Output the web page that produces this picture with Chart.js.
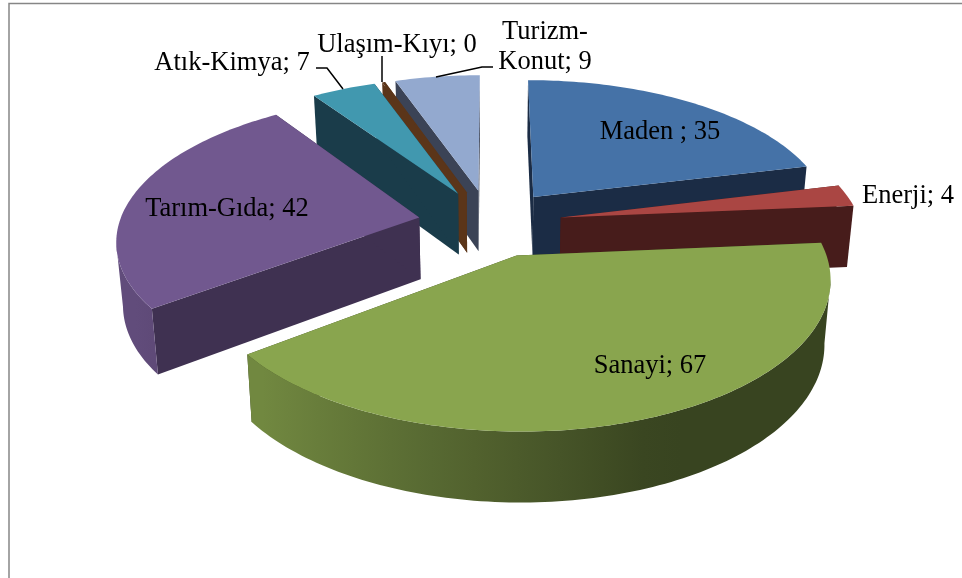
<!DOCTYPE html>
<html>
<head>
<meta charset="utf-8">
<title>Pie</title>
<script src="https://cdn.jsdelivr.net/npm/chart.js@4"></script>
<style>
    html, body { margin: 0; padding: 0; background: #fff; overflow: hidden; }
    canvas { display: block; }
</style>
</head>
<body>
<canvas id="sectorChart" width="962" height="578"></canvas>
<script>
// Data, the printed labels are rounded (the Ulaşım sliver prints as 0)
const categories = ['Maden ', 'Enerji', 'Sanayi', 'Tarım-Gıda', 'Atık-Kimya', 'Ulaşım-Kıyı', 'Turizm-Konut'];
const sectorValues = [34.6, 4, 67.2, 42, 6.6, 0.3, 8.7];

const topColors = ['#4572a7', '#aa4643', '#89a54e', '#71588f', '#4198af', '#5b3519', '#93a9cf'];
const faceColors = ['#1b2c45', '#471c1b', '#3a4420', '#3f3151', '#1a3c4a', '#5b3519', '#3b4356'];

// far slices first so the near ones paint over them
const paintOrder = [6, 5, 4, 0, 1, 3, 2];

// Camera for the tilted pie
const cam = { cx: 490, cy: 223, R: 300, persp: 0.000476, tilt: 0.4685, depth: 62, taper: 0.018 };

// Data label boxes
const labelSpots = [
    { text: ['Maden ; 35'], x: 660, y: 132 },
    { text: ['Enerji; 4'], x: 908, y: 196 },
    { text: ['Sanayi; 67'], x: 650, y: 366 },
    { text: ['Tarım-Gıda; 42'], x: 227, y: 209 },
    { text: ['Atık-Kimya; 7'], x: 232, y: 63 },
    { text: ['Ulaşım-Kıyı; 0'], x: 397, y: 45 },
    { text: ['Turizm-', 'Konut; 9'], x: 545, y: 32 }
];
const leaders = [
    [[316, 68], [327, 68], [343, 89]],
    [[382, 56], [382, 82]],
    [[493, 67], [482, 67], [436, 77]]
];

function project(X, Y, t) {
    const s = 1 / (1 - cam.persp * Y);
    return {
        x: cam.cx + X * s * (1 - cam.taper * t),
        y: cam.cy + cam.tilt * Y * s + cam.depth * t * Math.pow(s, 0.7)
    };
}

function rgbOf(hex) {
    return [1, 3, 5].map(function (i) { return parseInt(hex.substr(i, 2), 16); });
}

// Curved wall gets darker towards the right, like the 3D lighting in the original
function wallColor(hex, angle) {
    const lean = Math.cos(angle);
    let f = 0.86 - (lean + 0.85) * (0.46 / 1.25);
    f = Math.max(0.41, Math.min(0.86, f));
    const c = rgbOf(hex);
    return 'rgb(' + c.map(function (v) { return Math.round(v * f); }).join(',') + ')';
}

function fillPoly(ctx, pts, color) {
    ctx.beginPath();
    pts.forEach(function (p, i) {
        if (i === 0) ctx.moveTo(p.x, p.y); else ctx.lineTo(p.x, p.y);
    });
    ctx.closePath();
    ctx.fillStyle = color;
    ctx.fill();
}

function drawSlice(ctx, arc, index) {
    const props = arc.getProps(['startAngle', 'endAngle', 'outerRadius']);
    const unit = cam.R / props.outerRadius;
    const mid = (props.startAngle + props.endAngle) / 2;
    const off = arc.options.offset * unit;
    const ox = Math.cos(mid) * off;
    const oy = Math.sin(mid) * off;
    const steps = Math.max(4, Math.ceil((props.endAngle - props.startAngle) / 0.02));

    const rim = [];
    for (let i = 0; i <= steps; i++) {
        const a = props.startAngle + (props.endAngle - props.startAngle) * i / steps;
        rim.push({ a: a, X: ox + Math.cos(a) * cam.R, Y: oy + Math.sin(a) * cam.R });
    }

    // radial faces
    [rim[0], rim[steps]].forEach(function (p) {
        fillPoly(ctx, [project(ox, oy, 0), project(p.X, p.Y, 0), project(p.X, p.Y, 1), project(ox, oy, 1)], faceColors[index]);
    });

    // outer wall, only the part that faces the viewer, cut at the screen extremes
    // so the ribbon does not fold back over itself
    let front = rim.filter(function (p) { return Math.sin(p.a) > 0; });
    if (front.length > 1) {
        const allX = front.map(function (p) { return project(p.X, p.Y, 0).x; });
        const iMax = allX.indexOf(Math.max.apply(null, allX));
        const iMin = allX.indexOf(Math.min.apply(null, allX));
        front = front.slice(iMax, iMin + 1);
    }
    if (front.length > 1) {
        const upper = front.map(function (p) { return project(p.X, p.Y, 0); });
        const lower = front.map(function (p) { return project(p.X, p.Y, 1); });
        const xs = upper.concat(lower).map(function (p) { return p.x; });
        const minX = Math.min.apply(null, xs);
        const maxX = Math.max.apply(null, xs);
        const grad = ctx.createLinearGradient(minX, 0, maxX, 0);
        front.forEach(function (p, i) {
            if (i % 6 === 0) grad.addColorStop((upper[i].x - minX) / (maxX - minX), wallColor(topColors[index], p.a));
        });
        fillPoly(ctx, upper.concat(lower.reverse()), grad);
    }

    // top
    const top = [project(ox, oy, 0)].concat(rim.map(function (p) { return project(p.X, p.Y, 0); }));
    fillPoly(ctx, top, topColors[index]);
}

const frameAndPie = {
    id: 'frameAndPie',
    beforeDatasetsDraw: function (chart) {
        const ctx = chart.ctx;
        const arcs = chart.getDatasetMeta(0).data;

        ctx.save();
        ctx.strokeStyle = '#868686';
        ctx.lineWidth = 1.5;
        ctx.beginPath();
        ctx.moveTo(9, 578);
        ctx.lineTo(9, 3.5);
        ctx.lineTo(962, 3.5);
        ctx.stroke();

        paintOrder.forEach(function (i) { drawSlice(ctx, arcs[i], i); });

        ctx.strokeStyle = '#000';
        ctx.lineWidth = 1.5;
        leaders.forEach(function (line) {
            ctx.beginPath();
            line.forEach(function (p, i) {
                if (i === 0) ctx.moveTo(p[0], p[1]); else ctx.lineTo(p[0], p[1]);
            });
            ctx.stroke();
        });

        ctx.fillStyle = '#000';
        ctx.font = '26.5px "Liberation Serif"';
        ctx.textAlign = 'center';
        ctx.textBaseline = 'middle';
        labelSpots.forEach(function (spot) {
            spot.text.forEach(function (line, i) {
                ctx.fillText(line, spot.x, spot.y + i * 30);
            });
        });
        ctx.restore();
        return false; // the slices are painted above, skip the flat pie
    }
};

new Chart(document.getElementById('sectorChart').getContext('2d'), {
    type: 'pie',
    data: {
        labels: categories,
        datasets: [{
            data: sectorValues,
            backgroundColor: topColors,
            borderWidth: 0,
            offset: 62
        }]
    },
    options: {
        responsive: false,
        animation: false,
        plugins: {
            legend: { display: false },
            tooltip: { enabled: false }
        }
    },
    plugins: [frameAndPie]
});
</script>
</body>
</html>
